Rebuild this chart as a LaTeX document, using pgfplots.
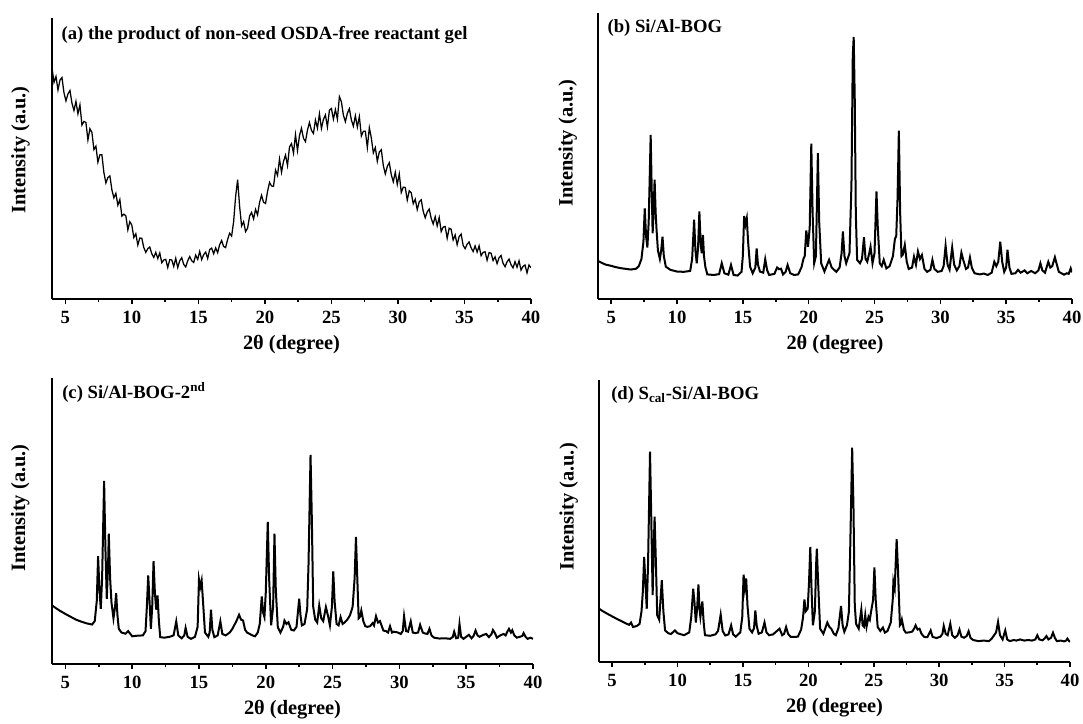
\documentclass[border=0pt]{standalone}
\usepackage{fontspec}
\setmainfont{Liberation Serif}
\usepackage{pgfplots}
\pgfplotsset{compat=1.18}
\pgfplotsset{
  xrd/.style={
    scale only axis,
    xmin=4, xmax=40, ymin=0, ymax=100,
    axis lines*=left,
    axis line style={line width=1.5pt, black},
    ytick=\empty,
    xtick={5,10,...,40},
    minor xtick={7.5,12.5,...,37.5},
    tick align=outside,
    major tick length=3.8pt,
    minor tick length=2.3pt,
    every tick/.style={line width=1.2pt, black},
    /pgf/number format/assume math mode=true,
    xticklabel style={font=\bfseries\fontsize{14}{16}\selectfont, yshift=-1.5pt},
    xlabel={2θ (degree)},
    ylabel={Intensity (a.u.)},
    xlabel style={at={(axis description cs:0.5,0)}, anchor=center, yshift=-34.5pt, font=\bfseries\fontsize{15.3}{17}\selectfont},
    ylabel style={anchor=center, font=\bfseries\fontsize{15.3}{17}\selectfont},
  }
}
\tikzset{ttl/.style={anchor=west, font=\bfseries\fontsize{14}{16}\selectfont, inner sep=0pt}}
\begin{document}
\begin{tikzpicture}
\useasboundingbox (0,0) rectangle (812.25pt,-543pt);
% (a)
\begin{axis}[xrd, at={(39pt,-224.25pt)}, anchor=south west, width=359.25pt, height=210.75pt,
  ylabel style={at={(axis description cs:-0.066,0.53)}}]
\addplot[black, line width=0.95pt] coordinates {
(4.00,82.3)(4.15,77.1)(4.30,79.2)(4.45,74.4)(4.60,77.9)(4.75,78.8)(4.90,73.4)(5.05,70.5)(5.20,73.0)(5.35,74.2)(5.50,69.7)(5.65,67.1)(5.80,70.3)(5.95,65.9)(6.10,69.1)(6.25,61.9)(6.40,63.2)(6.55,62.8)(6.70,56.6)(6.85,60.6)(7.00,59.3)(7.15,53.2)(7.30,54.4)(7.45,48.7)(7.60,51.3)(7.75,51.3)(7.90,45.0)(8.05,41.3)(8.20,43.2)(8.35,43.8)(8.50,38.9)(8.65,36.0)(8.80,37.6)(8.95,33.4)(9.10,35.4)(9.25,29.5)(9.40,30.2)(9.55,29.6)(9.70,24.6)(9.85,27.5)(10.00,26.3)(10.15,21.9)(10.30,23.2)(10.45,19.2)(10.60,21.7)(10.75,21.6)(10.90,18.3)(11.05,16.6)(11.20,17.9)(11.35,18.5)(11.50,16.1)(11.65,14.8)(11.80,16.6)(11.95,14.4)(12.10,16.4)(12.25,12.9)(12.40,13.9)(12.55,14.1)(12.70,11.2)(12.85,14.0)(13.00,13.9)(13.15,11.6)(13.30,14.5)(13.45,11.2)(13.60,13.6)(13.75,14.7)(13.90,12.3)(14.05,11.4)(14.20,13.6)(14.35,15.1)(14.50,13.6)(14.65,13.0)(14.80,15.6)(14.95,14.1)(15.10,16.9)(15.25,14.0)(15.40,15.8)(15.55,16.7)(15.70,14.4)(15.85,17.6)(16.00,18.1)(16.15,16.1)(16.30,18.2)(16.45,16.5)(16.60,19.3)(16.75,20.8)(16.90,18.7)(17.05,18.3)(17.20,21.2)(17.35,23.4)(17.50,22.4)(17.65,27.5)(17.80,36.4)(17.95,42.5)(18.10,33.0)(18.25,26.0)(18.40,27.5)(18.55,24.0)(18.70,25.2)(18.85,29.5)(19.00,30.8)(19.15,28.5)(19.30,31.9)(19.45,29.9)(19.60,34.4)(19.75,36.9)(19.90,34.4)(20.05,34.0)(20.20,38.3)(20.35,41.5)(20.50,40.2)(20.65,40.1)(20.80,45.9)(20.95,44.0)(21.10,49.8)(21.25,45.1)(21.40,49.0)(21.55,51.2)(21.70,47.5)(21.85,54.1)(22.00,55.3)(22.15,51.9)(22.30,58.5)(22.45,52.8)(22.60,58.1)(22.75,60.8)(22.90,57.2)(23.05,56.0)(23.20,60.1)(23.35,62.8)(23.50,60.0)(23.65,58.9)(23.80,63.7)(23.95,60.8)(24.10,65.9)(24.25,60.7)(24.40,63.9)(24.55,65.5)(24.70,61.2)(24.85,67.2)(25.00,67.8)(25.15,64.0)(25.30,67.4)(25.45,64.0)(25.60,72.0)(25.75,70.2)(25.90,65.4)(26.05,63.1)(26.20,66.1)(26.35,67.7)(26.50,63.7)(26.65,61.5)(26.80,65.2)(26.95,61.2)(27.10,64.9)(27.25,58.0)(27.40,59.7)(27.55,59.7)(27.70,53.9)(27.85,61.0)(28.00,57.3)(28.15,52.0)(28.30,53.9)(28.45,49.0)(28.60,52.3)(28.75,53.1)(28.90,47.5)(29.05,44.5)(29.20,47.2)(29.35,48.5)(29.50,44.2)(29.65,41.7)(29.80,45.1)(29.95,40.8)(30.10,44.5)(30.25,37.9)(30.40,39.8)(30.55,39.7)(30.70,35.2)(30.85,38.5)(31.00,37.8)(31.15,33.9)(31.30,35.5)(31.45,31.8)(31.60,34.6)(31.75,35.3)(31.90,31.2)(32.05,28.9)(32.20,31.0)(32.35,32.0)(32.50,28.7)(32.65,26.7)(32.80,29.3)(32.95,26.0)(33.10,29.0)(33.25,24.0)(33.40,25.6)(33.55,25.8)(33.70,21.6)(33.85,25.2)(34.00,24.8)(34.15,21.0)(34.30,22.8)(34.45,19.3)(34.60,22.2)(34.75,23.1)(34.90,19.1)(35.05,17.9)(35.20,19.5)(35.35,20.3)(35.50,18.2)(35.65,16.9)(35.80,18.9)(35.95,16.7)(36.10,18.9)(36.25,15.4)(36.40,16.6)(36.55,16.8)(36.70,13.8)(36.85,16.5)(37.00,16.3)(37.15,13.7)(37.30,15.0)(37.45,12.6)(37.60,14.7)(37.75,15.5)(37.90,12.7)(38.05,11.5)(38.20,13.2)(38.35,14.2)(38.50,12.2)(38.65,11.1)(38.80,13.3)(38.95,11.3)(39.10,13.6)(39.25,10.3)(39.40,11.6)(39.55,12.1)(39.70,9.3)(39.85,12.1)(40.00,11.1)
};
\node[ttl] at ([xshift=7pt,yshift=-13pt]rel axis cs:0,1) {(a) the product of non-seed OSDA-free reactant gel};
\end{axis}
% (b)
\begin{axis}[xrd, at={(448.5pt,-224.25pt)}, anchor=south west, width=355.5pt, height=214.5pt,
  ylabel style={at={(axis description cs:-0.064,0.545)}}]
\addplot[black, line width=1.5pt] coordinates {
(4.0,13.3)(4.3,12.6)(4.6,12.0)(5.0,11.6)(5.3,11.2)(5.7,10.8)(6.0,10.6)(6.5,10.3)(6.9,10.6)(7.1,11.5)(7.3,14)(7.45,20)(7.55,31.7)(7.65,22)(7.75,18)(7.85,27)(7.95,47)(8.0,57.4)(8.08,38)(8.15,23)(8.22,30)(8.3,41.7)(8.38,30)(8.45,24)(8.55,17)(8.7,14)(8.8,17)(8.9,21.8)(9.0,15)(9.15,11.3)(9.5,10.2)(10.0,9.6)(10.5,9.5)(11.0,9.8)(11.15,14)(11.3,27.7)(11.4,17)(11.5,12.5)(11.6,18)(11.7,30.6)(11.8,19)(11.88,16)(11.97,22.4)(12.05,15)(12.15,11.3)(12.3,8.6)(12.8,8.4)(13.2,8.7)(13.4,12.5)(13.6,9)(13.9,8.5)(14.1,11.9)(14.3,8.4)(14.6,8.2)(14.9,9.5)(15.0,15)(15.1,29)(15.2,26)(15.3,28.2)(15.4,20)(15.55,11.3)(15.75,9)(15.95,11)(16.05,17.7)(16.15,12)(16.3,9.6)(16.55,9.2)(16.7,13.9)(16.85,10)(17.0,8.4)(17.4,8.8)(17.6,11)(17.75,10.4)(17.9,10.6)(18.05,8.6)(18.25,9.5)(18.4,11.9)(18.6,9)(18.9,8.4)(19.2,8.6)(19.45,11)(19.6,14)(19.7,15)(19.82,24)(19.95,18.3)(20.08,25)(20.2,54.3)(20.3,30)(20.42,12.5)(20.55,15)(20.7,51)(20.8,27)(20.95,12.5)(21.2,9.6)(21.4,12)(21.55,13.7)(21.75,11)(22.1,9.5)(22.35,11)(22.5,16)(22.6,23.6)(22.72,15)(22.85,12.5)(23.1,16)(23.25,40)(23.35,85)(23.42,91.6)(23.5,70)(23.58,30)(23.68,13.7)(23.9,12.5)(24.05,14)(24.2,21.6)(24.32,14)(24.45,13)(24.6,16)(24.7,18.3)(24.85,12.5)(25.0,16)(25.15,37.6)(25.25,25)(25.4,12.5)(25.55,11.5)(25.7,13.7)(25.9,10.7)(26.15,11.5)(26.4,15)(26.55,21)(26.65,22)(26.75,35)(26.85,58.9)(26.95,30)(27.05,15)(27.15,15.5)(27.3,18.9)(27.45,13)(27.6,10.5)(27.85,11)(28.0,14.8)(28.15,12)(28.3,16.6)(28.45,14)(28.6,15.4)(28.8,10.5)(29.0,9.5)(29.25,10.2)(29.4,13.7)(29.55,10.5)(29.8,9.5)(30.1,9.8)(30.25,11.5)(30.4,18.6)(30.55,12)(30.7,10.3)(30.9,18)(31.05,12)(31.25,10)(31.45,11.5)(31.6,16.2)(31.75,13.5)(31.95,10.5)(32.1,11)(32.25,14.5)(32.4,10.8)(32.6,9)(33.0,8.6)(33.3,8.9)(33.6,8.4)(33.9,9.2)(34.1,13)(34.25,11.5)(34.4,13)(34.55,20)(34.7,13)(34.85,9.5)(35.0,11)(35.1,17.2)(35.25,11)(35.4,8.8)(35.7,9)(35.9,10.2)(36.1,9.2)(36.4,10)(36.6,9)(36.9,9.8)(37.2,9)(37.45,10)(37.6,12.5)(37.75,10)(37.95,9.2)(38.2,13)(38.35,11)(38.5,11.5)(38.7,14.6)(38.85,12)(39.0,9.5)(39.2,9)(39.4,8.5)(39.6,9)(39.75,8.8)(39.9,10.7)(40.0,9.3)
};
\node[ttl] at ([xshift=7pt,yshift=-11pt]rel axis cs:0,1) {(b) Si/Al-BOG};
\end{axis}
% (c)
\begin{axis}[xrd, at={(39pt,-498pt)}, anchor=south west, width=360.75pt, height=214.5pt,
  ylabel style={at={(axis description cs:-0.066,0.545)}}]
\addplot[black, line width=1.5pt] coordinates {
(4.0,20.5)(4.3,19.5)(4.6,18.6)(5.0,17.5)(5.4,16.5)(5.8,15.5)(6.2,14.8)(6.6,14.2)(7.0,13.8)(7.2,15)(7.35,22)(7.45,37.7)(7.55,26)(7.65,19.3)(7.75,30)(7.9,64)(8.0,40)(8.1,22.8)(8.2,35)(8.25,45.6)(8.35,30)(8.45,21.6)(8.6,16)(8.72,20)(8.8,24.8)(8.9,17)(9.0,12.3)(9.2,11)(9.5,10.6)(9.7,11.5)(10.0,9.7)(10.4,9.9)(10.8,10)(11.0,11.5)(11.1,20)(11.2,31)(11.3,22)(11.4,12.3)(11.5,20)(11.6,36)(11.7,25)(11.8,19)(11.9,24)(12.0,15)(12.1,9.4)(12.4,9.2)(12.8,9.5)(13.1,10)(13.3,14.9)(13.45,10)(13.7,9)(13.9,10)(14.0,12.6)(14.15,9.5)(14.4,8.8)(14.7,9.5)(14.9,13)(15.0,29.6)(15.1,27)(15.2,29.2)(15.3,22)(15.45,11)(15.7,9.5)(15.8,11)(15.9,19)(16.0,12)(16.15,9.4)(16.4,10)(16.6,14.9)(16.75,10.5)(17.0,10)(17.3,11)(17.5,12.3)(17.8,15)(18.0,17.2)(18.15,15.5)(18.3,15.2)(18.45,12)(18.6,11)(19.0,10)(19.2,9.7)(19.4,11)(19.55,14)(19.7,23.6)(19.8,18)(19.9,16.4)(20.0,25)(20.15,49.7)(20.25,30)(20.4,13.5)(20.55,20)(20.65,45.6)(20.75,26)(20.9,12.9)(21.1,11)(21.3,13)(21.4,15.2)(21.55,14)(21.7,14.6)(21.9,12)(22.1,11.7)(22.3,13)(22.5,22.8)(22.6,17)(22.7,13.5)(22.9,14)(23.1,19.3)(23.2,35)(23.35,73.1)(23.45,50)(23.55,20)(23.7,15.5)(23.85,14.5)(24.0,20.5)(24.15,16)(24.3,15)(24.5,19.9)(24.65,17)(24.8,13.5)(24.95,20)(25.05,32.4)(25.15,22)(25.3,14)(25.45,13.5)(25.6,16.4)(25.75,14)(25.9,14.5)(26.1,15.5)(26.3,17)(26.5,20)(26.65,30)(26.75,44.4)(26.85,30)(26.95,16)(27.05,16.5)(27.15,18.7)(27.3,15)(27.45,13.2)(27.6,13)(27.8,13.2)(28.0,14.3)(28.1,13.5)(28.25,16.7)(28.4,14.5)(28.55,15)(28.8,11.7)(29.0,11.5)(29.15,11)(29.3,13.2)(29.45,11)(29.6,11.3)(29.9,11)(30.1,10.5)(30.25,11.5)(30.35,16.7)(30.5,11.5)(30.65,11.3)(30.85,14.9)(31.0,11)(31.2,10.8)(31.4,11)(31.55,13.7)(31.75,11)(31.9,10.7)(32.1,10.5)(32.25,12.3)(32.4,10)(32.6,9.2)(33.0,8.9)(33.4,9)(33.8,8.8)(34.0,9.5)(34.1,11.3)(34.25,9)(34.4,9.2)(34.5,14)(34.62,9.5)(34.8,8.8)(35.0,9.5)(35.2,10.2)(35.4,9)(35.55,9.8)(35.7,11.7)(35.85,10)(36.0,9.5)(36.3,10.2)(36.5,10.5)(36.7,9.4)(36.9,10.5)(37.0,11.9)(37.15,10.8)(37.3,9.2)(37.55,10)(37.8,10.5)(37.95,10)(38.1,11.5)(38.2,12.3)(38.35,11)(38.45,11.8)(38.6,10)(38.8,9.2)(39.0,9.5)(39.2,9.8)(39.3,10.8)(39.45,9.5)(39.6,8.8)(39.8,9.2)(40.0,8.8)
};
\node[ttl] at ([xshift=7.5pt,yshift=-11pt]rel axis cs:0,1) {(c) Si/Al-BOG-2\textsuperscript{nd}};
\end{axis}
% (d)
\begin{axis}[xrd, at={(449.25pt,-496.5pt)}, anchor=south west, width=353.25pt, height=211.5pt,
  ylabel style={at={(axis description cs:-0.064,0.55)}}]
\addplot[black, line width=1.5pt] coordinates {
(4.0,18.9)(4.3,18)(4.6,17.2)(5.0,16.2)(5.4,15.2)(5.8,14.3)(6.1,13.6)(6.3,13.2)(6.45,14)(6.6,12.4)(6.9,12.8)(7.1,13.5)(7.25,18)(7.35,25)(7.45,37.3)(7.55,28)(7.65,18.9)(7.75,35)(7.9,74.6)(8.0,50)(8.1,23.7)(8.18,40)(8.25,51.5)(8.35,35)(8.45,16.6)(8.6,15)(8.7,22)(8.8,29)(8.92,18)(9.05,11.2)(9.3,10.2)(9.5,9.9)(9.8,11.2)(10.0,10.2)(10.5,9.5)(10.9,10.5)(11.05,16)(11.2,26)(11.3,21)(11.4,14)(11.5,19)(11.6,27.5)(11.68,19)(11.75,16)(11.9,21.5)(12.0,14)(12.1,9.5)(12.5,9.3)(12.9,9.8)(13.1,11)(13.3,16.8)(13.45,11)(13.65,9.4)(13.9,9.8)(14.1,13)(14.25,9.8)(14.45,9)(14.8,10.5)(14.95,16)(15.05,31)(15.15,26)(15.25,29.6)(15.35,20)(15.5,11.8)(15.7,10.5)(15.85,12)(15.95,18.3)(16.05,13)(16.2,10)(16.45,10.5)(16.65,14)(16.8,10.5)(17.0,9.5)(17.3,9.8)(17.6,11)(17.8,11.8)(18.0,9.5)(18.15,10)(18.3,12.4)(18.45,10)(18.65,8.9)(19.0,8.9)(19.2,9)(19.45,11.5)(19.6,16)(19.7,22.2)(19.8,18)(19.95,18.9)(20.05,28)(20.15,40.8)(20.25,25)(20.35,13)(20.5,18)(20.6,35)(20.65,40.2)(20.75,28)(20.9,11.8)(21.15,10)(21.3,12)(21.45,14)(21.6,12.5)(21.75,11.8)(21.95,10)(22.1,9.5)(22.3,12)(22.5,19.9)(22.62,13)(22.75,10.7)(22.95,13)(23.1,17.8)(23.2,40)(23.35,76)(23.45,55)(23.55,20)(23.65,13.5)(23.85,11.8)(24.05,18.6)(24.15,13)(24.25,12.5)(24.35,16.6)(24.45,12.5)(24.6,16)(24.7,15)(24.8,18)(24.95,22)(25.05,33.5)(25.15,22)(25.3,12.4)(25.5,11)(25.7,12.2)(25.85,10.4)(26.05,11)(26.3,14)(26.45,22)(26.5,28.4)(26.6,26)(26.75,43.6)(26.85,33)(27.0,13)(27.08,13.5)(27.15,15)(27.3,11.5)(27.45,10.4)(27.7,10.5)(27.95,10.8)(28.1,12)(28.2,13)(28.35,11.5)(28.5,11.8)(28.65,10)(28.85,8.9)(29.1,8.8)(29.35,11.2)(29.5,8.9)(29.8,8.5)(30.1,9)(30.25,10)(30.35,12.8)(30.5,10)(30.65,9.5)(30.85,13.6)(31.0,9.5)(31.2,8.6)(31.4,9.4)(31.55,11.5)(31.7,9)(31.9,8.6)(32.1,9.2)(32.25,10.9)(32.4,8.5)(32.6,7.8)(33.0,7.4)(33.4,7.6)(33.8,7.4)(34.0,8.2)(34.2,9.5)(34.35,10.5)(34.5,14.2)(34.65,9.5)(34.85,8)(35.05,11.2)(35.2,8)(35.4,7.4)(35.7,7.8)(35.9,7.6)(36.2,8)(36.5,7.6)(36.8,7.8)(37.1,7.6)(37.35,8)(37.5,9.5)(37.65,8)(37.9,7.7)(38.05,8.3)(38.2,9.2)(38.35,8)(38.55,8.6)(38.7,10.4)(38.85,8.5)(39.0,7.4)(39.3,7.6)(39.55,7.3)(39.7,7.6)(39.8,8.3)(39.9,7.6)(40.0,7.1)
};
\node[ttl] at ([xshift=9pt,yshift=-11pt]rel axis cs:0,1) {(d) S\textsubscript{cal}-Si/Al-BOG};
\end{axis}
\end{tikzpicture}
\end{document}
